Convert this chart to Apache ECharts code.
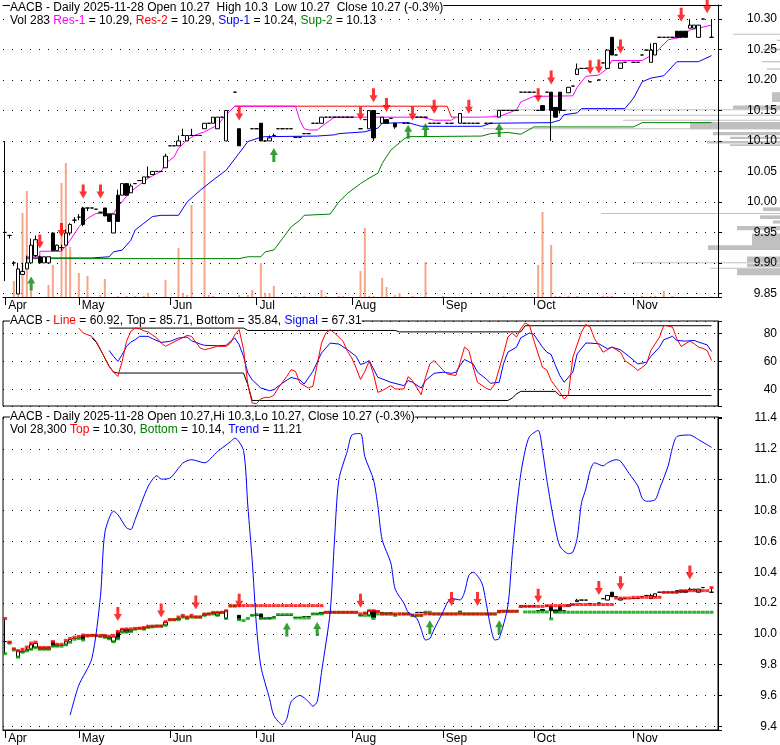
<!DOCTYPE html>
<html><head><meta charset="utf-8">
<script src="https://cdn.jsdelivr.net/npm/echarts@6/dist/echarts.min.js"></script>
<style>html,body{margin:0;padding:0;background:#fff}#c{width:780px;height:745px}</style>
</head><body><div id="c"></div>
<script>
const FONT = '"Liberation Sans", Arial, sans-serif';
const holidays = ['2025-04-18','2025-05-26','2025-06-19','2025-07-04','2025-09-01','2025-11-27'];
const monthNames = ['Jan','Feb','Mar','Apr','May','Jun','Jul','Aug','Sep','Oct','Nov','Dec'];
const dates = [];
(function(){ let d = new Date(Date.UTC(2025,3,7));
  while (dates.length < 165) { const wd = d.getUTCDay(); const s = d.toISOString().slice(0,10);
    if (wd !== 0 && wd !== 6 && holidays.indexOf(s) < 0) dates.push(s); d.setUTCDate(d.getUTCDate()+1); } })();
const lastIdx = 163;

const openP = [
 9.95,9.945,9.90,9.849,9.881,9.89,9.90,9.912,9.91,9.90,
 9.90,9.949,9.92,9.925,9.929,9.949,9.97,9.975,9.99,9.99,
 9.99,9.988,9.983,9.99,9.98,9.949,10.011,10.011,10.03,10.015,
 10.03,10.035,10.03,10.041,10.045,10.05,10.05,10.056,10.092,10.092,
 10.092,10.109,10.10,10.109,10.109,10.109,10.12,10.129,10.129,10.12,
 10.139,10.10,null,10.18,10.12,null,null,10.12,10.12,10.129,
 10.10,10.10,10.109,10.12,10.12,10.12,10.12,10.106,10.106,10.112,
 10.112,10.129,10.129,10.129,10.139,10.139,10.139,10.139,10.139,10.139,
 10.139,null,10.12,10.135,10.12,10.15,10.145,10.129,10.135,10.137,
 10.129,null,10.129,10.129,null,10.139,10.139,10.139,10.129,10.129,
 10.129,null,10.129,10.129,null,10.129,10.129,10.129,10.129,10.129,
 null,10.129,10.129,null,10.139,10.15,10.15,10.15,10.15,10.18,
 10.18,10.18,10.18,10.15,10.158,10.18,10.18,10.155,10.18,10.15,
 10.179,10.19,10.209,10.219,10.219,10.197,null,10.20,10.228,10.219,
 10.27,10.241,10.219,10.229,null,10.229,10.229,10.241,10.249,10.229,
 10.241,10.27,10.27,10.27,10.27,10.28,10.28,10.28,10.285,10.285,
 10.27,10.30,null,10.27];
const closeP = [
 9.95,9.945,9.90,9.89,9.886,9.90,9.929,9.938,9.90,9.91,
 9.91,9.92,9.929,9.925,9.949,9.963,9.97,9.975,9.963,9.99,
 9.99,9.988,9.983,9.977,9.968,9.98,9.968,10.03,10.011,10.026,
 10.03,10.035,10.041,10.041,10.05,10.05,10.05,10.075,10.092,10.092,
 10.10,10.109,10.109,10.109,10.109,10.109,10.129,10.129,10.139,10.139,
 10.139,10.15,null,10.18,10.092,null,null,10.12,10.12,10.10,
 10.10,10.105,10.109,10.12,10.12,10.12,10.12,10.106,10.106,10.112,
 10.112,10.129,10.129,10.139,10.139,10.139,10.139,10.139,10.139,10.139,
 10.139,null,10.12,10.135,10.15,10.105,10.145,10.139,10.129,10.137,
 10.123,null,10.129,10.129,null,10.139,10.139,10.139,10.129,10.129,
 10.129,null,10.129,10.129,null,10.145,10.129,10.129,10.129,10.129,
 null,10.129,10.129,null,10.15,10.15,10.15,10.15,10.15,10.18,
 10.18,10.18,10.18,10.15,10.15,10.18,10.15,10.139,10.15,10.15,
 10.188,10.19,10.218,10.219,10.219,10.197,null,10.20,10.228,10.249,
 10.241,10.241,10.228,10.229,null,10.229,10.229,10.241,10.249,10.249,
 10.26,10.27,10.27,10.27,10.27,10.27,10.27,10.27,10.29,10.29,
 10.29,10.30,null,10.27];
const lowP = [
 9.87,9.94,9.895,9.849,9.881,9.89,9.90,9.91,9.90,9.90,
 9.90,9.92,9.92,9.92,9.929,9.945,9.965,9.97,9.96,9.985,
 9.99,9.988,9.983,9.977,9.968,9.949,9.968,10.011,10.011,10.015,
 10.03,10.035,10.03,10.041,10.045,10.05,10.05,10.056,10.092,10.092,
 10.092,10.109,10.10,10.109,10.109,10.109,10.12,10.129,10.129,10.12,
 10.139,10.10,null,10.18,10.092,null,null,10.12,10.12,10.10,
 10.10,10.10,10.109,10.12,10.12,10.12,10.12,10.106,10.106,10.112,
 10.112,10.129,10.129,10.129,10.139,10.139,10.139,10.139,10.139,10.139,
 10.139,null,10.12,10.135,10.12,10.10,10.145,10.129,10.129,10.137,
 10.12,null,10.129,10.129,null,10.139,10.139,10.139,10.129,10.129,
 10.129,null,10.129,10.129,null,10.129,10.129,10.129,10.129,10.129,
 null,10.129,10.129,null,10.139,10.15,10.15,10.15,10.15,10.18,
 10.18,10.18,10.18,10.15,10.15,10.18,10.10,10.139,10.145,10.15,
 10.179,10.19,10.209,10.219,10.219,10.197,null,10.20,10.228,10.219,
 10.241,10.241,10.219,10.229,null,10.229,10.229,10.241,10.249,10.229,
 10.241,10.27,10.27,10.27,10.27,10.27,10.27,10.27,10.285,10.285,
 10.27,10.30,null,10.27];
const highP = [
 10.10,9.946,9.903,9.90,9.90,9.912,9.94,9.945,9.912,9.91,
 9.91,9.95,9.93,9.93,9.955,9.965,9.975,9.98,9.992,9.99,
 9.99,9.988,9.983,9.99,9.98,9.98,10.02,10.03,10.03,10.03,
 10.03,10.035,10.041,10.058,10.05,10.05,10.05,10.079,10.092,10.092,
 10.109,10.12,10.109,10.12,10.109,10.109,10.129,10.129,10.139,10.139,
 10.139,10.15,null,10.18,10.12,null,null,10.12,10.12,10.129,
 10.10,10.109,10.112,10.12,10.12,10.12,10.12,10.106,10.106,10.112,
 10.112,10.129,10.129,10.139,10.139,10.139,10.139,10.139,10.139,10.139,
 10.139,null,10.12,10.135,10.15,10.15,10.145,10.139,10.135,10.137,
 10.129,null,10.129,10.129,null,10.139,10.139,10.139,10.129,10.129,
 10.129,null,10.129,10.129,null,10.145,10.129,10.129,10.129,10.129,
 null,10.129,10.129,null,10.15,10.15,10.15,10.15,10.15,10.18,
 10.18,10.18,10.18,10.15,10.158,10.18,10.18,10.155,10.18,10.15,
 10.188,10.19,10.227,10.219,10.219,10.197,null,10.20,10.228,10.249,
 10.27,10.241,10.228,10.229,null,10.229,10.229,10.241,10.249,10.26,
 10.26,10.27,10.27,10.27,10.27,10.28,10.28,10.28,10.30,10.29,
 10.29,10.30,null,10.30];
// volume in hundreds of shares
const volume = [
 0,0,8000,14500,42000,53000,3500,0,0,0,
 6000,16000,0,57000,67000,25000,0,12000,0,10500,
 0,0,1000,9000,0,0,500,0,500,0,
 500,0,500,2000,0,0,0,8500,0,0,
 24500,2000,1000,46000,0,0,73000,1000,500,0,
 0,0,0,0,1000,0,1000,3500,0,17000,
 2000,2000,5500,0,0,0,0,500,0,500,
 0,0,0,3500,500,0,0,500,500,0,
 0,0,13000,34500,500,500,0,9500,5000,0,
 1000,2000,0,0,500,0,0,17500,0,0,
 0,500,0,0,0,0,0,0,0,0,
 0,0,0,0,0,500,0,0,0,0,
 0,0,0,16000,42500,0,26000,500,500,0,
 500,0,500,0,0,0,0,0,500,500,
 500,0,0,0,0,0,0,500,0,500,
 500,0,3000,0,500,0,0,0,0,0,
 0,0,0,283];
// panel 1 indicator lines [day index, value]
const res1Pts = [[5,9.910],[8,9.910],[8,9.919],[13,9.919],[14,9.928],[15,9.937],[17,9.959],[19,9.973],[21,9.981],[25,9.981],[26,9.992],[28,10.009],[29,10.017],[31,10.028],[33,10.039],[36,10.05],[37,10.063],[39,10.074],[40,10.088],[42,10.102],[44,10.11],[46,10.115],[49,10.126],[51,10.143],[53,10.157],[67,10.157],[68,10.134],[69,10.12],[70,10.118],[72,10.118],[74,10.129],[76,10.139],[96,10.139],[99,10.134],[103,10.134],[104,10.139],[110,10.139],[114,10.14],[118,10.151],[119,10.164],[122,10.173],[131,10.174],[132,10.188],[134,10.206],[137,10.208],[139,10.219],[140,10.232],[147,10.232],[150,10.244],[153,10.266],[156,10.27],[158,10.282],[160,10.285],[163,10.29]];
const res2Pts = [[53,10.157],[102,10.157],[103,10.139],[104,10.139]];
const sup1Pts = [[5,9.908],[20,9.908],[24,9.910],[25,9.918],[27,9.921],[29,9.937],[30,9.954],[32,9.965],[34,9.976],[36,9.978],[40,9.978],[42,10.0],[45,10.019],[48,10.036],[51,10.052],[54,10.08],[56,10.099],[59,10.106],[60,10.107],[72,10.108],[76,10.11],[77,10.112],[83,10.115],[86,10.121],[87,10.129],[93,10.13],[95,10.126],[96,10.124],[110,10.124],[112,10.129],[126,10.13],[128,10.134],[129,10.143],[132,10.146],[133,10.153],[143,10.153],[145,10.17],[147,10.197],[149,10.203],[152,10.207],[155,10.23],[160,10.23],[163,10.24]];
const sup2Pts = [[5,9.907],[54,9.907],[56,9.91],[59,9.91],[60,9.918],[62,9.921],[64,9.94],[66,9.959],[68,9.97],[69,9.978],[75,9.98],[77,10.0],[79,10.014],[82,10.03],[84,10.039],[86,10.047],[87,10.063],[89,10.085],[92,10.103],[93,10.107],[110,10.108],[112,10.112],[116,10.114],[119,10.111],[122,10.123],[145,10.123],[147,10.13],[163,10.13]];
const redArrows1 = [[8,9.935],[13,9.954],[18,10.017],[22,10.017],[54,10.145],[82,10.145],[85,10.175],[88,10.159],[94,10.145],[99,10.156],[107,10.156],[123,10.175],[126,10.204],[135,10.221],[137,10.222],[142,10.255],[156,10.307],[162,10.321]];
const greenArrows1 = [[6,9.866],[62,10.077],[93,10.115],[97,10.118],[114,10.118]];
// volume-at-price profile
const profPrice = [10.275,10.265,10.25,10.23,10.218,10.172,10.155,10.151,10.142,10.134,10.125,10.12,10.112,10.105,10.098,10.093,9.988,9.981,9.975,9.967,9.957,9.938,9.925,9.906,9.90,9.896,9.891,9.885];
const profLen   = [47,3,17,18,13,8,47,287,287,157,90,297,67,50,73,50,17,179,20,7,43,28,72,33,147,33,70,43];
const profThick = [0.002,0.002,0.003,0.002,0.002,0.016,0.006,0.0016,0.0016,0.0016,0.012,0.0016,0.005,0.004,0.004,0.003,0.006,0.0016,0.006,0.005,0.007,0.02,0.008,0.009,0.0016,0.006,0.0016,0.011];
// panel 2 oscillator
const lineOsc = [[17,84.0],[18,80.5],[20,78.1],[21,74.5],[22,68.6],[23,62.6],[24,56.7],[25,52.6],[26,49.5],[27,60.2],[28,74.5],[29,81.7],[30,84.0],[31,83.5],[32,82.1],[33,81.2],[35,76.9],[36,73.3],[37,71.0],[38,72.6],[40,75.7],[42,78.8],[43,78.1],[44,74.0],[45,69.8],[46,68.6],[47,69.3],[49,71.0],[51,71.0],[52,73.3],[53,79.3],[54,82.9],[55,69.0],[56,43.6],[57,30.5],[58,30.0],[59,33.5],[60,34.5],[61,34.5],[62,36.0],[63,41.2],[65,49.5],[66,54.3],[67,53.1],[68,44.8],[70,41.2],[71,42.4],[72,57.9],[73,73.3],[74,80.5],[75,82.9],[76,80.5],[78,74.5],[79,67.4],[80,62.6],[81,55.5],[82,47.3],[83,53.0],[84,60.5],[85,51.3],[86,38.1],[87,39.3],[89,42.9],[90,40.5],[92,40.5],[93,49.3],[94,46.5],[96,36.4],[97,48.9],[98,58.4],[99,60.8],[101,54.1],[102,51.3],[104,50.1],[105,59.6],[106,70.4],[107,68.0],[108,56.0],[109,45.3],[111,41.0],[112,39.8],[113,44.1],[115,65.6],[116,77.6],[117,80.5],[118,77.6],[119,83.6],[120,87.7],[121,86.0],[122,75.2],[124,56.0],[125,54.1],[126,46.5],[128,38.1],[129,33.3],[130,36.9],[131,63.2],[133,81.2],[134,86.7],[135,84.8],[136,76.4],[137,71.6],[138,66.8],[140,70.4],[142,66.8],[143,60.8],[145,56.5],[146,53.7],[148,58.4],[149,68.0],[151,77.6],[152,86.0],[154,84.8],[155,76.4],[156,70.9],[158,74.7],[159,72.8],[160,70.4],[161,69.6],[162,68.0],[163,60.92]];
const signalOsc = [[24,68.1],[25,63.8],[26,60.2],[27,65],[28,71],[29,74],[30,75.7],[31,78.1],[33,78.1],[34,76.4],[36,73.8],[38,74.5],[40,76.9],[42,77.6],[43,75],[45,72.6],[46,71.7],[49,71.4],[51,71.7],[52,74.5],[53,76.9],[54,72.1],[55,63.8],[56,51.9],[57,47.1],[59,41.2],[61,39.3],[62,40],[64,44.8],[66,48.8],[68,47.1],[69,44],[71,53.1],[73,66.2],[75,73.3],[77,72.6],[79,68.6],[81,63.8],[82,58],[83,59],[84,60.8],[86,48.9],[87,47.7],[89,45.3],[92,42.9],[93,46.5],[94,45.3],[96,41.2],[97,46.5],[99,51.7],[101,52.5],[103,51.7],[104,52.5],[105,57.2],[106,61.6],[108,58.4],[109,52.5],[111,47.7],[112,44.6],[114,45.3],[115,58.4],[116,66.8],[118,70.4],[119,77.1],[121,80.5],[122,79.5],[124,70.4],[125,66.8],[126,65.1],[127,57.2],[128,50.1],[129,45.3],[131,52.5],[132,65.6],[134,73.3],[135,73.3],[137,72.8],[139,69.2],[140,70.4],[142,68.5],[144,63.7],[146,58.4],[148,59.6],[149,63.7],[151,70.4],[152,75.7],[154,78.1],[155,75.2],[157,74.7],[159,75.2],[160,74],[161,73],[162,72],[163,67.31]];
const topOsc = [[24,84],[55,84],[56,82.3],[90,82.3],[91,81.3],[119,81.3],[120,85.71],[163,85.71]];
const bottomOsc = [[20,77],[21,74],[22,68.6],[23,62.6],[24,56.7],[25,52.6],[26,51.9],[55,51.9],[56,43.6],[57,32.3],[116,32.3],[117,34],[118,37],[119,38.8],[127,38.8],[128,35.84],[163,35.84]];
// panel 3
const trendPts = [[15,9.473],[17,9.667],[20,9.839],[22,10.247],[23,10.656],[25,10.796],[26,10.774],[28,10.688],[29,10.677],[30,10.742],[33,10.957],[35,11.026],[36,11.004],[38,11.01],[41,11.108],[43,11.13],[46,11.11],[49,11.183],[52,11.247],[53,11.27],[55,11.19],[56,10.83],[57,10.48],[58,10.05],[59,9.79],[61,9.58],[62,9.47],[64,9.41],[65,9.45],[66,9.56],[68,9.60],[70,9.56],[71,9.53],[72,9.56],[73,9.75],[75,10.14],[76,10.61],[77,11.0],[79,11.19],[80,11.29],[82,11.30],[83,11.15],[85,11.0],[86,10.83],[87,10.61],[89,10.46],[90,10.29],[92,10.20],[93,10.14],[95,10.10],[96,10.03],[97,9.96],[98,9.97],[99,10.03],[101,10.14],[102,10.20],[103,10.23],[105,10.22],[106,10.27],[107,10.38],[108,10.40],[110,10.33],[111,10.20],[112,10.05],[113,9.96],[114,9.97],[116,10.18],[117,10.51],[118,10.81],[119,11.04],[120,11.19],[121,11.28],[123,11.32],[124,11.19],[125,11.0],[126,10.83],[127,10.68],[128,10.57],[130,10.52],[131,10.53],[132,10.62],[133,10.85],[134,10.94],[135,11.06],[136,11.11],[138,11.09],[139,11.11],[141,11.13],[142,11.12],[144,11.04],[146,10.96],[147,10.88],[148,10.86],[150,10.87],[151,10.94],[153,11.09],[154,11.21],[155,11.28],[158,11.29],[160,11.26],[163,11.21]];
const topP3 = [
 10.10,9.946,9.903,9.89,9.90,9.914,9.94,9.946,9.912,9.912,
 9.912,9.95,9.932,9.932,9.957,9.97,9.978,9.983,9.992,9.99,
 9.99,9.99,9.99,9.99,9.985,9.99,10.015,10.03,10.032,10.032,
 10.035,10.037,10.041,10.049,10.05,10.05,10.05,10.079,10.092,10.092,
 10.109,10.12,10.109,10.12,10.109,10.109,10.129,10.129,10.139,10.139,
 10.139,10.15,10.183,10.183,10.183,10.183,10.183,10.183,10.183,10.183,
 10.183,10.183,10.183,10.183,10.183,10.183,10.183,10.183,10.183,10.183,
 10.183,10.183,10.183,10.183,10.14,10.14,10.14,10.14,10.14,10.14,
 10.14,10.14,10.13,10.135,10.15,10.15,10.145,10.129,10.129,10.129,
 10.129,10.129,10.129,10.129,10.122,10.122,10.122,10.129,10.129,10.129,
 10.129,10.129,10.129,10.129,10.129,10.129,10.129,10.129,10.129,10.129,
 10.129,10.129,10.129,10.129,10.146,10.146,10.146,10.146,10.146,10.178,
 10.178,10.178,10.178,10.178,10.178,10.183,10.183,10.183,10.183,10.183,
 10.183,10.19,10.19,10.19,10.19,10.19,10.19,10.19,10.19,10.19,
 10.19,10.232,10.232,10.232,10.232,10.237,10.237,10.237,10.237,10.237,
 10.237,10.237,10.269,10.269,10.269,10.269,10.28,10.28,10.28,10.28,
 10.28,10.28,10.28,10.30];
const bottomP3 = [
 9.871,9.94,9.895,9.849,9.881,9.89,9.90,9.91,9.90,9.90,
 9.90,9.92,9.92,9.92,9.929,9.945,9.965,9.97,9.96,9.985,
 9.99,9.988,9.983,9.977,9.968,9.949,9.968,10.011,10.011,10.015,
 10.03,10.035,10.03,10.041,10.045,10.05,10.05,10.056,10.092,10.092,
 10.092,10.109,10.10,10.109,10.109,10.109,10.12,10.129,10.129,10.12,
 10.139,10.10,10.18,10.18,10.092,10.086,10.10,10.12,10.125,10.10,
 10.10,10.10,10.103,10.125,10.125,10.125,10.125,10.103,10.103,10.103,
 10.103,10.129,10.129,10.129,10.139,10.139,10.139,10.139,10.139,10.139,
 10.139,10.139,10.12,10.12,10.12,10.10,10.129,10.129,10.129,10.129,
 10.12,10.129,10.129,10.129,10.118,10.118,10.118,10.14,10.14,10.129,
 10.129,10.129,10.129,10.129,10.129,10.142,10.129,10.129,10.129,10.129,
 10.129,10.129,10.129,10.129,10.142,10.146,10.146,10.146,10.146,10.178,
 10.142,10.142,10.142,10.142,10.142,10.142,10.097,10.14,10.14,10.14,
 10.14,10.14,10.14,10.14,10.14,10.14,10.14,10.14,10.14,10.14,
 10.14,10.14,10.14,10.14,10.14,10.14,10.14,10.14,10.14,10.14,
 10.14,10.14,10.14,10.14,10.14,10.14,10.14,10.14,10.14,10.14,
 10.14,10.14,10.14,10.14];
const redArrows3 = [[26,10.129],[36,10.151],[44,10.204],[54,10.215],[82,10.215],[103,10.226],[109,10.226],[123,10.247],[137,10.297],[142,10.329],[158,10.398]];
const greenArrows3 = [[65,10.028],[72,10.032],[98,10.043],[114,10.043]];

const candles = openP.map((o,i) => o == null ? '-' : [o, closeP[i], lowP[i], highP[i]]);
function monthStart(i){ if (i > lastIdx) return false; return i === 0 || dates[i].slice(5,7) !== dates[i-1].slice(5,7); }
function fmtStep(step, dec){ return v => { const k = v/step; return Math.abs(k - Math.round(k)) < 1e-6 ? v.toFixed(dec) : ''; }; }
const DOWN = 'path://M2.5,0 L5.5,0 L5.5,7 L8,7 L4,14 L0,7 L2.5,7 Z';
const UP = 'path://M4,0 L8,7 L5.5,7 L5.5,14 L2.5,14 L2.5,7 L0,7 Z';
const RED = '#ff0000', GREEN = '#008800', BLUE = '#0000ff', MAG = '#ff00ff';

function catAxis(gi, labels, extra){
  return Object.assign({type:'category', gridIndex:gi, data:dates, boundaryGap:true,
    axisLine:{show:labels, onZero:false, lineStyle:{color:'#000', width:1}},
    axisTick:{show:labels, alignWithLabel:true, length:8, interval:(i)=>monthStart(i), lineStyle:{color:'#000'}},
    axisLabel:{show:labels, interval:(i)=>monthStart(i), formatter:(v)=>monthNames[+v.slice(5,7)-1], align:'left', margin:3, padding:[0,0,0,3], color:'#000', fontSize:12, fontFamily:FONT},
    splitLine:{show:false}}, extra||{});
}
function priceAxis(gi, min, max, split, step, dec){
  return {type:'value', gridIndex:gi, position:'right', min, max, splitNumber:split, scale:true, z:1,
    axisLine:{show:true, lineStyle:{color:'#000'}},
    axisTick:{show:true, length:4, lineStyle:{color:'#000'}},
    axisLabel:{formatter:fmtStep(step,dec), align:'right', margin:59, color:'#000', fontSize:12, fontFamily:FONT, showMinLabel:true, showMaxLabel:true},
    splitLine:{show:true, lineStyle:{color:'#000', type:[1,8], width:1}}};
}
function lineS(data, color, xi, yi, extra){
  return Object.assign({type:'line', xAxisIndex:xi, yAxisIndex:yi, data, showSymbol:false, symbol:'none', lineStyle:{color, width:1}, itemStyle:{color}, z:2, silent:true}, extra||{});
}
function arrows(data, up, color, xi, yi){
  return {type:'scatter', xAxisIndex:xi, yAxisIndex:yi, data, symbol: up ? UP : DOWN, symbolSize:[8,14], itemStyle:{color}, z:5, clip:false, silent:true};
}
function squares(data, color){
  return {type:'scatter', xAxisIndex:3, yAxisIndex:3, data, symbol:'rect', symbolSize:[4,3], itemStyle:{color}, z:3, silent:true};
}
const candleStyle = {color:'#ffffff', color0:'#000000', borderColor:'#000000', borderColor0:'#000000', borderWidth:1};
const rs = c => ({color:c, backgroundColor:'#fff', fontSize:12, fontFamily:FONT, lineHeight:13, fontWeight:'normal'});
const rich = {k:rs('#000'), m:rs(MAG), r:rs(RED), b:rs(BLUE), g:rs('#008000')};
function ttl(text, top){ return {text, left:10, top, padding:0, z:10, textStyle:{fontSize:12, fontFamily:FONT, lineHeight:13, fontWeight:'normal', rich}}; }

const option = {
  animation:false,
  backgroundColor:'#fff',
  textStyle:{fontFamily:FONT},
  title:[
    ttl('{k|AACB - Daily 2025-11-28 Open 10.27  High 10.3  Low 10.27  Close 10.27 (-0.3%)}\n{k|Vol 283 }{m|Res-1}{k| = 10.29, }{r|Res-2}{k| = 10.29, }{b|Sup-1}{k| = 10.24, }{g|Sup-2}{k| = 10.13}', 1),
    ttl('{k|AACB - }{r|Line}{k| = 60.92, Top = 85.71, Bottom = 35.84, }{b|Signal}{k| = 67.31}', 314.5),
    ttl('{k|AACB - Daily 2025-11-28 Open 10.27,Hi 10.3,Lo 10.27, Close 10.27 (-0.3%)}\n{k|Vol 28,300 }{r|Top}{k| = 10.30, }{g|Bottom}{k| = 10.14, }{b|Trend}{k| = 11.21}', 410.5)
  ],
  grid:[
    {left:3, right:61, top:5, height:292},
    {left:3, right:61, top:321, height:85, show:true, borderColor:'#000', borderWidth:1, backgroundColor:'transparent'},
    {left:3, right:61, top:417, height:314, show:true, borderColor:'#000', borderWidth:1, backgroundColor:'transparent'},
    {left:3, right:0, top:5, height:292}
  ],
  xAxis:[
    catAxis(0, true),
    catAxis(1-1, false, {position:'top', axisLine:{show:true, onZero:false, lineStyle:{color:'#000'}}}),
    catAxis(1, false),
    catAxis(2, true),
    {type:'value', gridIndex:3, inverse:true, min:0, max:777, show:false}
  ],
  yAxis:[
    priceAxis(0, 9.844, 10.323, 9, 0.05, 2),
    {type:'value', gridIndex:0, min:0, max:146000, show:false},
    priceAxis(1, 28.36, 89.07, 3, 20, 0),
    priceAxis(2, 9.376, 11.407, 10, 0.2, 1),
    {type:'value', gridIndex:3, min:9.844, max:10.323, show:false}
  ],
  series:[
    {type:'custom', xAxisIndex:4, yAxisIndex:4, z:0, silent:true,
     data: profPrice.map((p,i) => [profLen[i], p, profThick[i]]), encode:{x:0, y:1},
     renderItem:(params, api) => {
       const len = api.value(0), p = api.value(1), th = api.value(2);
       const a = api.coord([0, p + th/2]), b = api.coord([len, p - th/2]);
       return {type:'rect', shape:{x:Math.min(a[0],b[0]), y:Math.min(a[1],b[1]), width:Math.abs(b[0]-a[0]), height:Math.max(1, Math.abs(b[1]-a[1]))}, style:{fill:'#c0c0c0'}};
     }},
    {type:'bar', xAxisIndex:0, yAxisIndex:1, data:volume, barWidth:2, itemStyle:{color:'#f7a489'}, z:1, silent:true},
    lineS(res2Pts, RED, 0, 0),
    lineS(res1Pts, MAG, 0, 0),
    lineS(sup1Pts, BLUE, 0, 0),
    lineS(sup2Pts, '#008000', 0, 0),
    {type:'candlestick', xAxisIndex:0, yAxisIndex:0, data:candles, barWidth:4, itemStyle:candleStyle, z:3, silent:true},
    arrows(redArrows1, false, RED, 0, 0),
    arrows(greenArrows1, true, GREEN, 0, 0),
    lineS(bottomOsc, '#000', 2, 2),
    lineS(topOsc, '#000', 2, 2),
    lineS(signalOsc, BLUE, 2, 2),
    lineS(lineOsc, RED, 2, 2),
    {type:'candlestick', xAxisIndex:3, yAxisIndex:3, data:candles, barWidth:4, itemStyle:candleStyle, z:3, silent:true},
    squares(bottomP3, '#00a000'),
    squares(topP3, RED),
    lineS(trendPts, BLUE, 3, 3, {smooth:0.25, z:4}),
    arrows(redArrows3, false, RED, 3, 3),
    arrows(greenArrows3, true, GREEN, 3, 3)
  ]
};
const chart = echarts.init(document.getElementById('c'), null, {renderer:'canvas'});
chart.setOption(option);
</script></body></html>
